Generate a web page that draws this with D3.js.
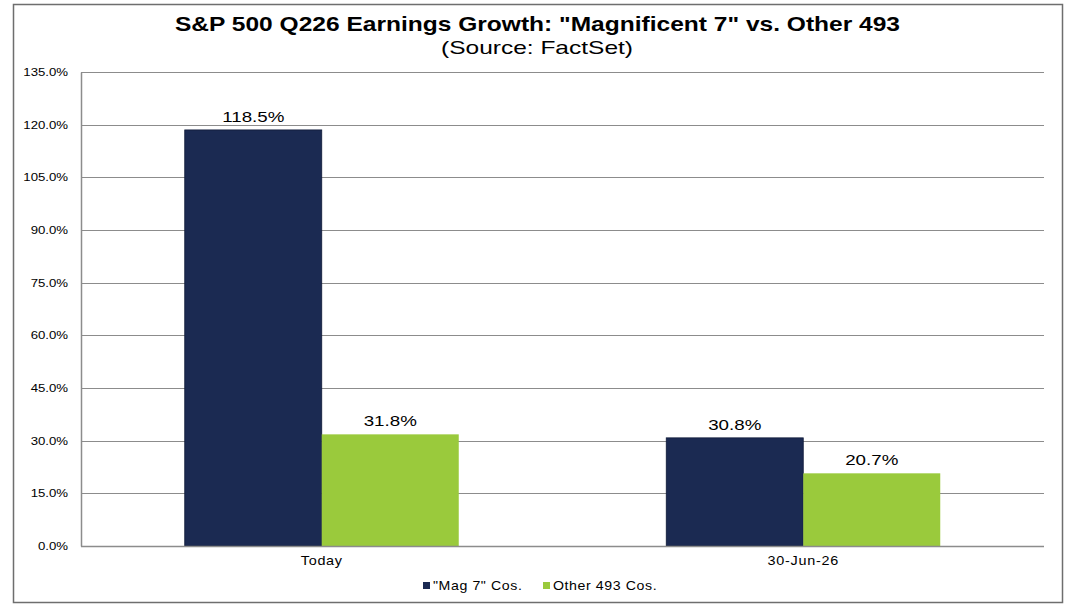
<!DOCTYPE html>
<html>
<head>
<meta charset="utf-8">
<script src="https://cdn.jsdelivr.net/npm/d3@7"></script>
<style>
  html, body { margin: 0; padding: 0; background: #fff; }
  svg { display: block; font-family: Arial, "Liberation Sans", sans-serif; }
</style>
</head>
<body>
<div id="chart"></div>
<script>
const categories = ['Today', '30-Jun-26'];
const seriesNames = ['"Mag 7" Cos.', 'Other 493 Cos.'];
const mag7Values = [118.5, 30.8];
const otherValues = [31.8, 20.7];
const yTicks = [0, 15, 30, 45, 60, 75, 90, 105, 120, 135];
const colors = ['#1b2a52', '#9aca3c'];

const width = 1075, height = 613;
const plot = { left: 81, top: 72, right: 1044, bottom: 546 };

// the source picture has wide-looking text, so squeeze it out sideways
function hstretch(sel, sx) {
    sel.each(function() {
        const t = d3.select(this);
        const x = +t.attr('x') || 0, y = +t.attr('y') || 0;
        t.attr('transform', 'translate(' + x + ',' + y + ') scale(' + sx + ',1)')
         .attr('x', 0).attr('y', 0);
    });
}

const svg = d3.select('#chart')
              .append('svg')
              .attr('width', width)
              .attr('height', height);

// outer frame
svg.append('rect')
   .attr('x', 13.5).attr('y', 4.5)
   .attr('width', 1049).attr('height', 598)
   .attr('fill', 'none')
   .attr('stroke', '#6e6e6e')
   .attr('stroke-width', 1.5);

// titles
svg.append('text')
   .text('S&P 500 Q226 Earnings Growth: "Magnificent 7" vs. Other 493')
   .attr('x', 175).attr('y', 31)
   .attr('textLength', 725)
   .attr('lengthAdjust', 'spacingAndGlyphs')
   .attr('font-size', 21).attr('font-weight', 'bold')
   .attr('fill', '#000');

svg.append('text')
   .text('(Source: FactSet)')
   .attr('x', 441).attr('y', 54)
   .attr('textLength', 192)
   .attr('lengthAdjust', 'spacingAndGlyphs')
   .attr('font-size', 19)
   .attr('fill', '#000');

// scales
const yScale = d3.scaleLinear()
                 .domain([0, 135])
                 .range([plot.bottom, plot.top]);

const x0 = d3.scaleBand()
             .domain(categories)
             .range([plot.left, plot.right]);

const groupWidth = 274;
const gap = (x0.bandwidth() - groupWidth) / 2;
const x1 = d3.scaleBand()
             .domain(seriesNames)
             .range([gap, gap + groupWidth]);

// grid lines
svg.append('g')
   .selectAll('line')
   .data(yTicks.filter(d => d > 0))
   .enter()
   .append('line')
   .attr('x1', plot.left).attr('x2', plot.right)
   .attr('y1', d => Math.round(yScale(d)) + 0.5)
   .attr('y2', d => Math.round(yScale(d)) + 0.5)
   .attr('stroke', '#8c8c8c')
   .attr('stroke-width', 1.2);

// y-axis
const yAxis = d3.axisLeft(yScale)
                .tickValues(yTicks)
                .tickSize(0)
                .tickPadding(13)
                .tickFormat(d => d.toFixed(1) + '%');

const yG = svg.append('g')
   .attr('transform', 'translate(' + plot.left + ',0)')
   .call(yAxis);
yG.select('.domain').attr('stroke', '#8c8c8c').attr('stroke-width', 1.5);
yG.selectAll('text').attr('font-size', 11).attr('fill', '#000')
  .attr('font-family', 'Arial, "Liberation Sans", sans-serif')
  .call(hstretch, 1.2);

// bars
const rows = categories.map((c, i) => ({ cat: c, vals: [mag7Values[i], otherValues[i]] }));

const groups = svg.append('g')
   .selectAll('g')
   .data(rows)
   .enter()
   .append('g')
   .attr('transform', d => 'translate(' + x0(d.cat) + ',0)');

groups.selectAll('rect')
   .data(d => d.vals.map((v, j) => ({ name: seriesNames[j], value: v, j: j })))
   .enter()
   .append('rect')
   .attr('x', d => x1(d.name))
   .attr('width', x1.bandwidth())
   .attr('y', d => yScale(d.value))
   .attr('height', d => yScale(0) - yScale(d.value))
   .attr('fill', d => colors[d.j])
   .attr('stroke', d => d.j === 0 ? '#0f1a38' : 'none')
   .attr('stroke-width', 0.8);

groups.selectAll('text.val')
   .data(d => d.vals.map((v, j) => ({ name: seriesNames[j], value: v })))
   .enter()
   .append('text')
   .attr('class', 'val')
   .text(d => d.value.toFixed(1) + '%')
   .attr('x', d => x1(d.name) + x1.bandwidth() / 2)
   .attr('y', d => yScale(d.value) - 8)
   .attr('text-anchor', 'middle')
   .attr('font-size', 15)
   .attr('fill', '#000')
   .call(hstretch, 1.25);

// x-axis
svg.append('line')
   .attr('x1', plot.left).attr('x2', plot.right)
   .attr('y1', plot.bottom + 0.5).attr('y2', plot.bottom + 0.5)
   .attr('stroke', '#8c8c8c')
   .attr('stroke-width', 1.5);

svg.append('g')
   .selectAll('text')
   .data(categories)
   .enter()
   .append('text')
   .text(d => d)
   .attr('x', d => x0(d) + x0.bandwidth() / 2)
   .attr('y', 565)
   .attr('text-anchor', 'middle')
   .attr('font-size', 12)
   .attr('letter-spacing', 0.6)
   .attr('fill', '#000')
   .call(hstretch, 1.2);

// legend
const legendX = [423, 543];
const legend = svg.append('g')
   .selectAll('g')
   .data(seriesNames)
   .enter()
   .append('g')
   .attr('transform', (d, i) => 'translate(' + legendX[i] + ',582)');

legend.append('rect')
   .attr('width', 7).attr('height', 7)
   .attr('fill', (d, i) => colors[i]);

legend.append('text')
   .text(d => d)
   .attr('x', 10).attr('y', 8)
   .attr('font-size', 12)
   .attr('letter-spacing', 0.5)
   .attr('fill', '#000')
   .call(hstretch, 1.18);
</script>
</body>
</html>
